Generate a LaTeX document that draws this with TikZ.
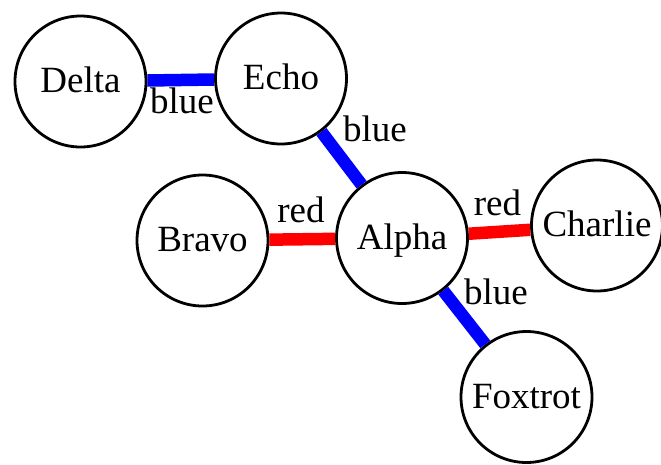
\documentclass[tikz,border=0pt]{standalone}
\usepackage{fontspec}
\setmainfont{Liberation Serif}
\begin{document}
\begin{tikzpicture}[x=1pt,y=-1pt,
  vert/.style={circle,draw=black,line width=2.8pt,fill=white,minimum size=131pt,inner sep=0pt,
    text height=22pt,text depth=0pt,font=\fontsize{37}{44}\selectfont},
  lbl/.style={anchor=base,inner sep=0pt,font=\fontsize{37}{44}\selectfont},
  bedge/.style={draw=blue,line width=12.5pt},
  redge/.style={draw=red,line width=12.5pt}]
\useasboundingbox (0,0) rectangle (661,464);
\node[vert] (delta) at (80.5,81.5) {Delta};
\node[vert] (echo) at (281,78.5) {Echo};
\node[vert] (bravo) at (202.5,240.5) {Bravo};
\node[vert] (alpha) at (402,238) {Alpha};
\node[vert] (charlie) at (597,225.5) {Charlie};
\node[vert] (foxtrot) at (526.5,397) {Foxtrot};
\draw[bedge] (delta) -- (echo);
\draw[bedge] (echo) -- (alpha);
\draw[redge] (bravo) -- (alpha);
\draw[redge] (alpha) -- (charlie);
\draw[bedge] (alpha) -- (foxtrot);
\node[lbl] (l1) at (182,113) {blue};
\node[lbl] (l2) at (375,141) {blue};
\node[lbl] (l3) at (301,222.5) {red};
\node[lbl] (l4) at (497.5,215) {red};
\node[lbl] (l5) at (496,304) {blue};
\end{tikzpicture}
\end{document}
